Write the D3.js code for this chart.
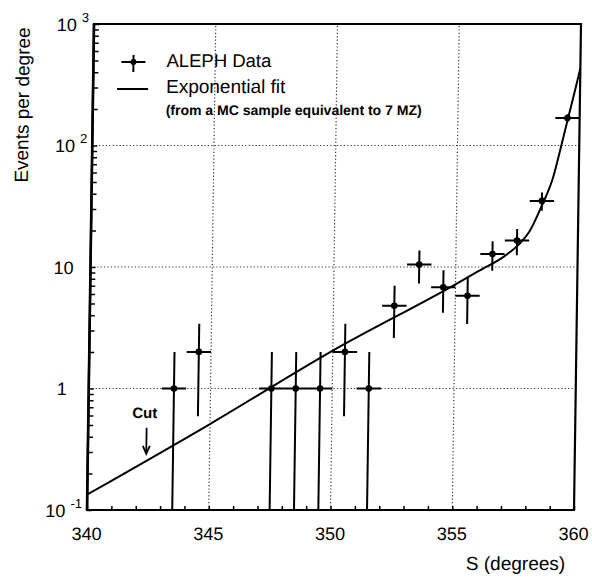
<!DOCTYPE html>
<html>
<head>
<meta charset="utf-8">
<script src="https://cdn.jsdelivr.net/npm/d3@7"></script>
<style>
    body { margin: 0; background: #fff; }
    svg { display: block; font-family: "Liberation Sans", Arial, sans-serif; }
</style>
</head>
<body>
<div id="chart"></div>
<script>
/*jshint esversion: 6 */

// ALEPH data, one degree bins
const binCentres = [343.5, 344.5, 347.5, 348.5, 349.5, 350.5, 351.5, 352.5, 353.5, 354.5, 355.5, 356.5, 357.5, 358.5, 359.5];
const events = [1, 2, 1, 1, 1, 2, 1, 4.8, 10.5, 6.8, 5.8, 12.8, 16.5, 35, 168];
const errors = [1, 1.41, 1, 1, 1, 1.41, 1, 2.2, 3.2, 2.6, 2.4, 3.5, 4, 6, 13];
const binHalfWidth = 0.5;

// exponential fit
const fitS = [340, 345, 350, 355, 356, 357, 357.6, 358, 358.5, 358.95, 359.2, 359.5, 359.75, 360];
const fitN = [0.134, 0.51, 2.05, 7.2, 9.4, 12.3, 15.5, 19.5, 32, 55, 88, 160, 260, 430];

const xTicks = [340, 345, 350, 355, 360];
const yTicks = [0.1, 1, 10, 100, 1000];
const yTickBase = ["10", "1", "10", "10", "10"];
const yTickExp = ["-1", "", "", "2", "3"];
const gridX = [345, 350, 355];
const gridY = [1, 10, 100];

const legendLabels = ["ALEPH Data", "Exponential fit", "(from a MC sample equivalent to 7 MZ)"];
const cutS = 342.4;

let width = 592, height = 579;
let margin = { top: 24, right: 18, bottom: 69, left: 87 };
let base = height - margin.bottom;

let svg = d3.select("#chart").append("svg")
    .attr("width", width)
    .attr("height", height);

svg.append("rect").attr("width", width).attr("height", height).attr("fill", "#fff");

// the scanned figure leans a little to the right at the top
let k = 0.0144;
let g = svg.append("g")
    .attr("transform", "matrix(1,0," + (-k) + ",1," + (k * base) + ",0)");

let x = d3.scaleLinear().domain([340, 360]).range([margin.left, width - margin.right]);
let y = d3.scaleLog().domain([0.1, 1000]).range([base, margin.top]);

// grid
g.selectAll(".gx").data(gridX).enter().append("line")
    .attr("x1", d => x(d)).attr("x2", d => x(d))
    .attr("y1", base).attr("y2", margin.top)
    .attr("stroke", "#333").attr("stroke-width", 1.2)
    .attr("stroke-dasharray", "1.2,2.2");

g.selectAll(".gy").data(gridY).enter().append("line")
    .attr("x1", x(340)).attr("x2", x(360))
    .attr("y1", d => y(d)).attr("y2", d => y(d))
    .attr("stroke", "#333").attr("stroke-width", 1.2)
    .attr("stroke-dasharray", "1.2,2.2");

// inward ticks
let xAxis = g.append("g")
    .attr("transform", "translate(0," + base + ")")
    .call(d3.axisBottom(x).tickValues(d3.range(340, 361)).tickSize(-4).tickFormat(""));
xAxis.select(".domain").remove();
xAxis.selectAll("line").attr("stroke-width", 1.5);

let yAxis = g.append("g")
    .attr("transform", "translate(" + margin.left + ",0)")
    .call(d3.axisLeft(y).tickSize(-5).tickFormat(""));
yAxis.select(".domain").remove();
yAxis.selectAll("line").attr("stroke-width", 1.5);

// frame
g.append("rect")
    .attr("x", margin.left).attr("y", margin.top)
    .attr("width", x(360) - x(340)).attr("height", base - margin.top)
    .attr("fill", "none").attr("stroke", "#000").attr("stroke-width", 2.2);
g.append("line")
    .attr("x1", margin.left).attr("x2", margin.left)
    .attr("y1", margin.top).attr("y2", base)
    .attr("stroke", "#000").attr("stroke-width", 2.6);

// tick labels
g.selectAll(".xl").data(xTicks).enter().append("text")
    .attr("x", d => x(d)).attr("y", base + 30)
    .attr("text-anchor", "middle")
    .style("font-size", "18px")
    .text(d => d);

yTicks.forEach(function (v, i) {
    let t = g.append("text")
        .attr("y", y(v) + 7)
        .style("font-size", "18px");
    if (yTickExp[i]) {
        t.attr("x", margin.left - 5).attr("text-anchor", "end");
        t.append("tspan").text(yTickBase[i] + " ");
        t.append("tspan").attr("dy", -9).style("font-size", "13px").text(yTickExp[i]);
    } else {
        t.attr("x", margin.left - 27).attr("text-anchor", "middle").text(yTickBase[i]);
    }
});

// axis titles
g.append("text")
    .attr("transform", "translate(23,105) rotate(-90)")
    .attr("text-anchor", "middle")
    .style("font-size", "19px")
    .text("Events per degree");

g.append("text")
    .attr("x", 566).attr("y", 570)
    .attr("text-anchor", "end")
    .style("font-size", "19px")
    .text("S (degrees)");

// data
g.append("clipPath").attr("id", "plot-clip")
    .append("rect")
    .attr("x", margin.left).attr("y", margin.top)
    .attr("width", x(360) - x(340)).attr("height", base - margin.top);

let plot = g.append("g").attr("clip-path", "url(#plot-clip)");

let fitData = fitS.map((s, i) => [s, fitN[i]]);
plot.append("path")
    .datum(fitData)
    .attr("fill", "none").attr("stroke", "#000").attr("stroke-width", 2)
    .attr("d", d3.line().x(d => x(d[0])).y(d => y(d[1])).curve(d3.curveMonotoneX));

let pts = binCentres.map((s, i) => ({ s: s, n: events[i], e: errors[i] }));
let pt = plot.selectAll(".pt").data(pts).enter().append("g");

pt.append("line")
    .attr("x1", d => x(d.s)).attr("x2", d => x(d.s))
    .attr("y1", d => y(d.n + d.e))
    .attr("y2", d => y(Math.max(d.n - d.e, 0.1)))
    .attr("stroke", "#000").attr("stroke-width", 2);

pt.append("line")
    .attr("x1", d => x(d.s - binHalfWidth)).attr("x2", d => x(d.s + binHalfWidth))
    .attr("y1", d => y(d.n)).attr("y2", d => y(d.n))
    .attr("stroke", "#000").attr("stroke-width", 2);

pt.append("circle")
    .attr("cx", d => x(d.s)).attr("cy", d => y(d.n))
    .attr("r", 3.3).attr("fill", "#000");

// cut marker
let cutTip = y(0.29);
g.append("text")
    .attr("x", x(cutS) - 2).attr("y", cutTip - 36)
    .attr("text-anchor", "middle")
    .style("font-size", "15px")
    .style("font-weight", "bold")
    .text("Cut");
g.append("line")
    .attr("x1", x(cutS)).attr("x2", x(cutS))
    .attr("y1", cutTip - 26).attr("y2", cutTip)
    .attr("stroke", "#000").attr("stroke-width", 1.8);
g.append("path")
    .attr("d", "M" + (x(cutS) - 3.5) + "," + (cutTip - 8) + " L" + x(cutS) + "," + cutTip + " L" + (x(cutS) + 3.5) + "," + (cutTip - 8))
    .attr("fill", "none").attr("stroke", "#000").attr("stroke-width", 1.8);

// legend
let legend = g.append("g").attr("transform", "translate(127,62)");
legend.append("line").attr("x1", -12).attr("x2", 12).attr("y1", 0).attr("y2", 0)
    .attr("stroke", "#000").attr("stroke-width", 2);
legend.append("line").attr("x1", 0).attr("x2", 0).attr("y1", -7).attr("y2", 10)
    .attr("stroke", "#000").attr("stroke-width", 2);
legend.append("circle").attr("r", 3).attr("fill", "#000");
legend.append("line").attr("x1", -16).attr("x2", 15).attr("y1", 27).attr("y2", 27)
    .attr("stroke", "#000").attr("stroke-width", 2);

legend.append("text").attr("x", 33).attr("y", 5)
    .style("font-size", "18.5px").text(legendLabels[0]);
legend.append("text").attr("x", 33).attr("y", 31)
    .style("font-size", "19px").text(legendLabels[1]);
legend.append("text").attr("x", 33).attr("y", 53)
    .style("font-size", "14px").style("font-weight", "bold").text(legendLabels[2]);
</script>
</body>
</html>
